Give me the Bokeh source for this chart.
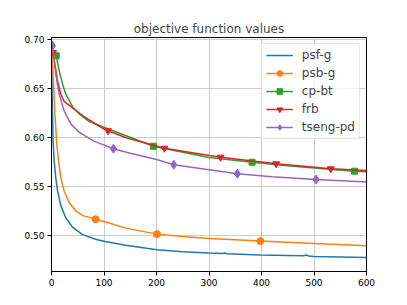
from bokeh.plotting import figure
from bokeh.models import Range1d, FixedTicker, Legend, LegendItem, Label, PrintfTickFormatter
from bokeh.embed import file_html
from bokeh.resources import INLINE

title_text = "objective function values"
x_label = "times (s)"
x_ticks = [0, 100, 200, 300, 400, 500, 600]
y_ticks = [0.50, 0.55, 0.60, 0.65, 0.70]

# psf-g (blue, no markers)
psf_t = [0, 1, 3, 5, 8, 11.4, 17.7, 27, 40, 59, 84, 100, 141, 201, 250, 300, 325, 330, 335,
         398, 450, 480, 485, 490, 500, 550, 600]
psf_v = [0.693, 0.650, 0.597, 0.5765, 0.5596, 0.5461, 0.5309, 0.5184, 0.5089, 0.5012, 0.4965,
         0.4945, 0.4904, 0.4858, 0.4838, 0.4824, 0.4819, 0.4826, 0.4818, 0.4804, 0.4799, 0.4796,
         0.4804, 0.4795, 0.4790, 0.4785, 0.4780]

# psb-g (orange, circles)
psb_t = [0, 3, 6, 9.5, 13.3, 17.7, 24, 33.5, 46, 60, 84, 116, 141, 201, 250, 300, 398, 500, 600]
psb_v = [0.693, 0.665, 0.630, 0.597, 0.576, 0.5591, 0.5456, 0.5338, 0.5254, 0.5205, 0.5169,
         0.5119, 0.5078, 0.5017, 0.4993, 0.4973, 0.4946, 0.4922, 0.4899]
psb_mark_t = [84, 201, 398]
psb_mark_v = [0.5169, 0.5017, 0.4946]

# cp-bt (green, squares)
cp_t = [9, 14.5, 21, 27, 40, 52.5, 71.5, 100, 141, 194, 250, 300, 382, 450, 500, 577, 600]
cp_v = [0.683, 0.668, 0.6544, 0.6442, 0.6313, 0.624, 0.6164, 0.6104, 0.602, 0.5911, 0.5850,
        0.5797, 0.5748, 0.5712, 0.5690, 0.5657, 0.5651]
cp_mark_t = [9, 194, 382, 577]
cp_mark_v = [0.683, 0.5911, 0.5748, 0.5657]

# frb (red, down triangles)
frb_t = [3, 11.4, 17.7, 24, 40, 65, 100, 107.6, 141, 215, 322, 428, 532, 600]
frb_v = [0.6864, 0.6577, 0.6442, 0.6367, 0.630, 0.620, 0.6085, 0.6068, 0.600, 0.589, 0.5799,
         0.5732, 0.5681, 0.5664]
frb_mark_t = [3, 107.6, 215, 322, 428, 532]
frb_mark_v = [0.6864, 0.6068, 0.589, 0.5799, 0.5732, 0.5681]

# tseng-pd (purple, thin diamonds)
tseng_t = [2, 8, 14.5, 24, 36.7, 52.5, 78, 94, 118, 150, 200, 233, 300, 354, 420, 504, 600]
tseng_v = [0.6932, 0.6645, 0.644, 0.627, 0.6138, 0.6053, 0.597, 0.5935, 0.5885, 0.584, 0.5775,
           0.5722, 0.5672, 0.563, 0.560, 0.5573, 0.5546]
tseng_mark_t = [2, 118, 233, 354, 504]
tseng_mark_v = [0.6932, 0.5885, 0.5722, 0.563, 0.5573]

FONT = "DejaVu Sans"

p = figure(width=407, height=305, x_range=Range1d(0, 600), y_range=Range1d(0.4637, 0.7016),
           output_backend="svg", toolbar_location=None, title=title_text,
           min_border_left=51, min_border_right=41, min_border_top=37, min_border_bottom=34)
p.background_fill_color = "white"
p.border_fill_color = "white"
p.outline_line_color = "black"
p.outline_line_width = 1

p.title.text_font = FONT
p.title.text_font_size = "12px"
p.title.text_font_style = "normal"
p.title.align = "center"
p.title.standoff = 4

for ax in (p.xaxis[0], p.yaxis[0]):
    ax.axis_line_color = "black"
    ax.major_tick_line_color = "black"
    ax.major_tick_out = 4
    ax.major_tick_in = 0
    ax.minor_tick_line_color = None
    ax.major_label_text_font = FONT
    ax.major_label_text_font_size = "9px"
    ax.major_label_text_color = "black"
    ax.major_label_standoff = 3

p.xaxis[0].ticker = FixedTicker(ticks=x_ticks)
p.yaxis[0].ticker = FixedTicker(ticks=y_ticks)
p.yaxis[0].formatter = PrintfTickFormatter(format="%.2f")

p.grid.grid_line_color = "#cccccc"
p.grid.grid_line_width = 1

colors = ["#1f77b4", "#ff7f0e", "#2ca02c", "#d62728", "#9467bd"]
items = []

r = p.line(psf_t, psf_v, line_color=colors[0], line_width=1.5)
items.append(LegendItem(label="psf-g", renderers=[r]))

r1 = p.line(psb_t, psb_v, line_color=colors[1], line_width=1.5)
r2 = p.scatter(psb_mark_t, psb_mark_v, marker="circle", size=7, color=colors[1])
items.append(LegendItem(label="psb-g", renderers=[r1, r2]))

r1 = p.line(cp_t, cp_v, line_color=colors[2], line_width=1.5)
r2 = p.scatter(cp_mark_t, cp_mark_v, marker="square", size=6, color=colors[2])
items.append(LegendItem(label="cp-bt", renderers=[r1, r2]))

r1 = p.line(frb_t, frb_v, line_color=colors[3], line_width=1.5)
r2 = p.scatter(frb_mark_t, frb_mark_v, marker="inverted_triangle", size=7, color=colors[3])
items.append(LegendItem(label="frb", renderers=[r1, r2]))

r1 = p.line(tseng_t, tseng_v, line_color=colors[4], line_width=1.5)
r2 = p.scatter(tseng_mark_t, tseng_mark_v, marker="diamond", size=9, color=colors[4])
items.append(LegendItem(label="tseng-pd", renderers=[r1, r2]))

legend = Legend(items=items, location="top_right", margin=6, padding=4,
                glyph_width=27, glyph_height=14, label_height=14, spacing=4,
                label_standoff=9, label_text_font=FONT, label_text_font_size="12px",
                border_line_color="#cccccc", border_line_width=1,
                background_fill_color="white", background_fill_alpha=0.8)
p.add_layout(legend)

xl = Label(x=300, y=-26, x_units="data", y_units="screen", text=x_label,
           text_font=FONT, text_font_size="12px", text_align="center",
           text_baseline="alphabetic", text_color="black")
p.add_layout(xl)

open("out.html", "w").write(file_html(p, INLINE))
